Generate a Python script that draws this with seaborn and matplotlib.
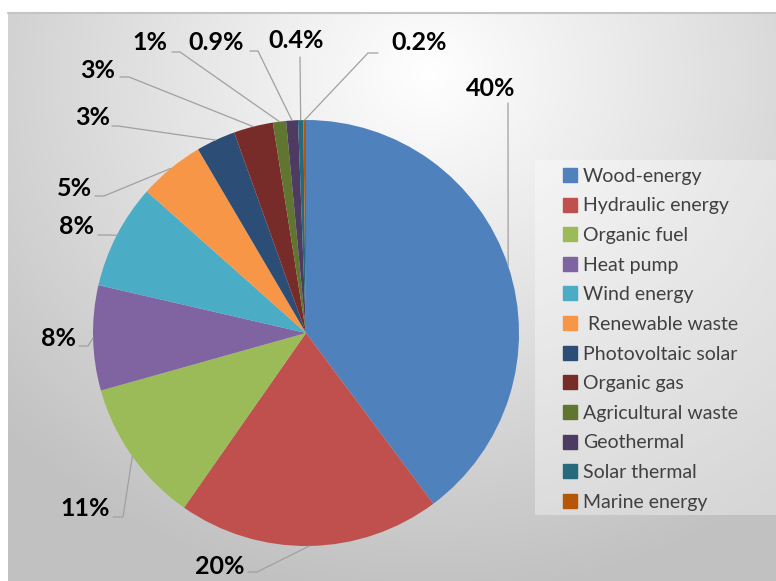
import numpy as np
import matplotlib.pyplot as plt
import seaborn as sns

sources = ['Wood-energy', 'Hydraulic energy', 'Organic fuel', 'Heat pump',
           'Wind energy', ' Renewable waste', 'Photovoltaic solar', 'Organic gas',
           'Agricultural waste', 'Geothermal', 'Solar thermal', 'Marine energy']
shares = [40, 20, 11, 8, 8, 5, 3, 3, 1, 0.9, 0.4, 0.2]
pct_labels = ['40%', '20%', '11%', '8%', '8%', '5%', '3%', '3%', '1%', '0.9%', '0.4%', '0.2%']
colors = ['#4F81BD', '#C0504D', '#9BBB59', '#8064A2', '#4BACC6', '#F79646',
          '#2C4D75', '#772C2A', '#5F7530', '#4D3B62', '#276A7C', '#B65708']

sns.set_style('white')
plt.rcParams['font.family'] = ['Lato', 'DejaVu Sans']

W, H = 776, 581
fig = plt.figure(figsize=(W / 100, H / 100), dpi=100)
fig.patch.set_facecolor('white')

# gradient backdrop (panel starts a little in from the top/left)
px0, py0 = 8, 13
bg = fig.add_axes([px0 / W, 0, 1 - px0 / W, 1 - py0 / H])
yy, xx = np.mgrid[0:H - py0, 0:W - px0]
d = np.sqrt(((xx - 420) / 600) ** 2 + ((yy - 60) / 540) ** 2)
shade = np.clip(1 - 0.25 * d, 0.76, 1.0)
bg.imshow(np.dstack([shade] * 3), aspect='auto', extent=[0, 1, 0, 1])
bg.axis('off')
fig.add_artist(plt.Line2D([px0 / W, 1], [1 - py0 / H] * 2, color='#c4c4c4', lw=1.5))

# pie geometry in pixels
cx, cy, r = 306, 333, 213
ax = fig.add_axes([(cx - r) / W, (H - cy - r) / H, 2 * r / W, 2 * r / H])
wedges, _ = ax.pie(shares, colors=colors, startangle=90, counterclock=False,
                   radius=1, wedgeprops=dict(linewidth=0))
ax.set_xlim(-1, 1)
ax.set_ylim(-1, 1)
ax.set_aspect('auto')
ax.axis('off')

def to_data(p):
    return ((p[0] - cx) / r, (cy - p[1]) / r)

# label layout in pixels: text centre, elbow, tail
text_pos = [(491, 89), (220, 567), (85, 508), (58, 338), (76, 226), (74, 188),
            (93, 117), (98, 70), (150, 43), (216, 43), (296, 40), (419, 43)]
elbows = [(508, 103), (257, 572), (123, 517), (88, 346), (107, 235), (104, 196),
          (118, 126), (129, 77), (180, 52), (258, 51), (300, 57), (368, 53)]
tails = [(508, 103), (248, 572), (113, 517), (79, 346), (98, 235), (95, 196),
         (112, 126), (120, 77), (172, 52), (250, 51), (300, 57), (378, 53)]

for w, lab, tp, el, tl in zip(wedges, pct_labels, text_pos, elbows, tails):
    mid = np.deg2rad((w.theta1 + w.theta2) / 2)
    anchor = (np.cos(mid), np.sin(mid))
    e, t = to_data(el), to_data(tl)
    ax.plot([anchor[0], e[0], t[0]], [anchor[1], e[1], t[1]],
            color='#a0a0a0', lw=0.9, clip_on=False)
    ax.text(*to_data(tp), lab, ha='center', va='center', fontsize=18,
            fontweight='bold', color='black', clip_on=False)

# legend panel
fig.patches.append(plt.Rectangle((535 / W, (H - 515) / H), (W - 535) / W, 355 / H,
                                 transform=fig.transFigure, facecolor='white',
                                 alpha=0.35, edgecolor='none'))
handles = [plt.Line2D([], [], marker='s', ls='', markersize=10, color=c) for c in colors]
fig.legend(handles, sources, loc='upper left', bbox_to_anchor=(553 / W, 1 - 158 / H),
           frameon=False, fontsize=14, labelcolor='#404040', handlelength=0.7,
           handletextpad=0.35, labelspacing=0.65, borderpad=0)

fig.savefig('out.png', dpi=100)
